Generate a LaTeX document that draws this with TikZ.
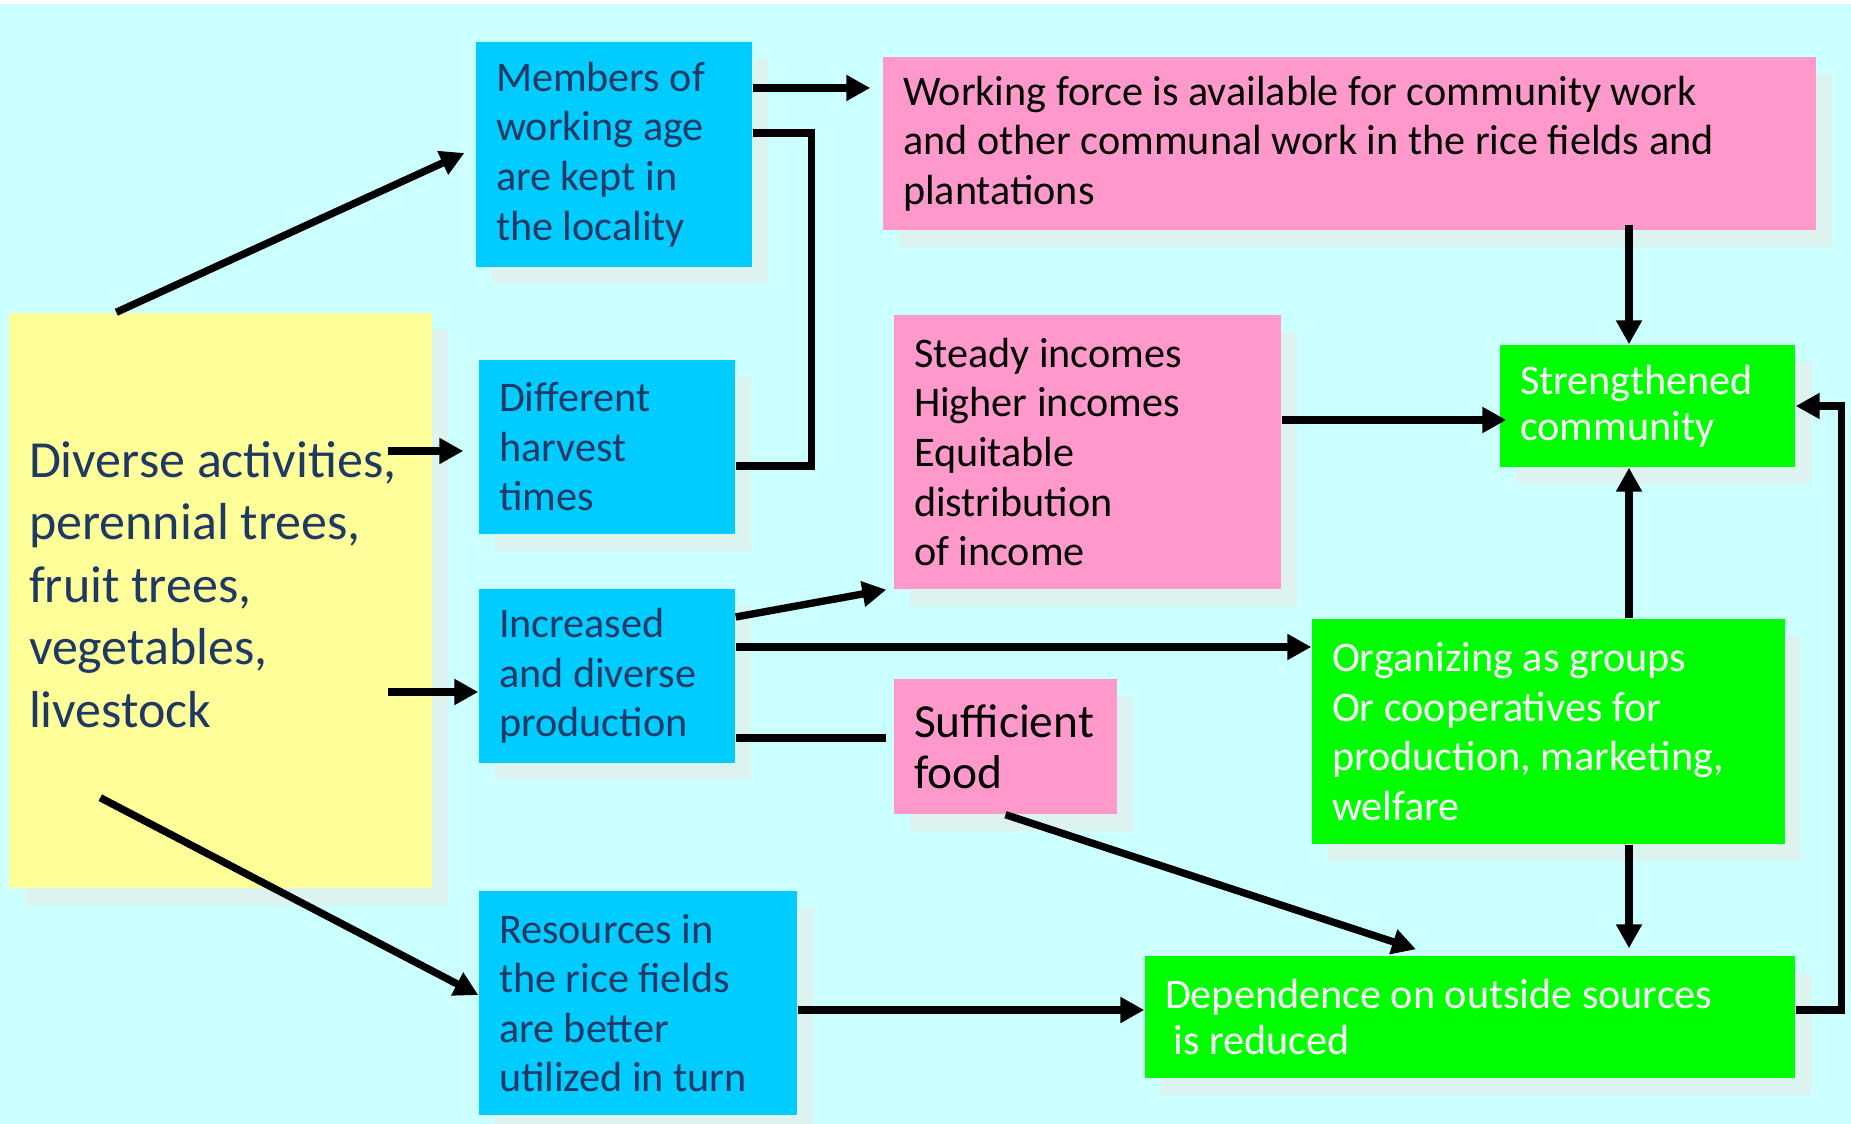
\documentclass[tikz,border=0pt]{standalone}
\usepackage{fontspec}
\setmainfont{Carlito}
\usetikzlibrary{arrows.meta,shadows}
\hyphenpenalty=10000
\definecolor{bgcyan}{HTML}{CCFFFF}
\definecolor{boxblue}{HTML}{00CCFF}
\definecolor{boxyellow}{HTML}{FFFF99}
\definecolor{boxpink}{HTML}{FF99CC}
\definecolor{boxgreen}{HTML}{00FF00}
\definecolor{shadowmint}{HTML}{DCF3EF}
\definecolor{textblue}{RGB}{31,56,100}
\tikzset{
  box/.style={rectangle, inner xsep=0.2cm, inner ysep=0pt, align=flush left,
    drop shadow={fill=shadowmint, opacity=1, shadow xshift=0.16cm, shadow yshift=-0.17cm}},
  bluebox/.style={box, fill=boxblue, text=textblue},
  yellowbox/.style={box, fill=boxyellow, text=textblue},
  pinkbox/.style={box, fill=boxpink, text=black},
  greenbox/.style={box, fill=boxgreen, text=white},
  f12/.style={font=\fontsize{12pt}{14.1pt}\selectfont},
  f12s/.style={font=\fontsize{12pt}{13.2pt}\selectfont},
  f13/.style={font=\fontsize{13.5pt}{14.5pt}\selectfont},
  f15/.style={font=\fontsize{14.8pt}{17.8pt}\selectfont},
  arr/.style={line width=2.1pt, -{Triangle[length=6.8pt,width=7pt]}},
  link/.style={line width=2.1pt}
}
\begin{document}
\begin{tikzpicture}
  \useasboundingbox (0,0) rectangle (18.51,-11.24);
  \fill[white] (0,0) rectangle (18.51,-11.24);
  \fill[bgcyan] (0,-0.04) rectangle (18.51,-11.24);
  \node[yellowbox, f15, minimum height=5.75cm, text width=3.83cm] (activities) at (2.205,-6.005) {Diverse activities,\\perennial trees,\\fruit trees,\\vegetables,\\livestock\\[-0.3cm]\mbox{}};
  \node[bluebox, f12, minimum height=2.25cm, text width=2.36cm] (members) at (6.14,-1.545) {Members of\\working age\\are kept in\\the locality};
  \node[bluebox, f12, minimum height=1.74cm, text width=2.16cm] (harvest) at (6.07,-4.47) {Different\\harvest\\times};
  \node[bluebox, f12, minimum height=1.74cm, text width=2.16cm] (production) at (6.07,-6.76) {Increased\\and diverse\\production};
  \node[bluebox, f12, minimum height=2.24cm, text width=2.78cm] (resources) at (6.38,-10.03) {Resources in\\the rice fields\\are better\\utilized in turn};
  \node[pinkbox, f12, minimum height=1.73cm, text width=8.93cm] (workforce) at (13.495,-1.435) {Working force is available for community work\\and other communal work in the rice fields and\\plantations};
  \node[pinkbox, f12, minimum height=2.74cm, text width=3.47cm] (incomes) at (10.875,-4.52) {Steady incomes\\Higher incomes\\Equitable\\distribution\\of income};
  \node[pinkbox, f13, minimum height=1.35cm, text width=1.83cm] (food) at (10.055,-7.465) {Sufficient\\food};
  \node[greenbox, f12s, minimum height=1.22cm, text width=2.55cm] (community) at (16.475,-4.06) {Strengthened\\community};
  \node[greenbox, f12, minimum height=2.25cm, text width=4.33cm] (groups) at (15.485,-7.315) {Organizing as groups\\Or cooperatives for\\production, marketing,\\welfare};
  \node[greenbox, f12s, minimum height=1.22cm, text width=6.1cm] (dependence) at (14.70,-10.17) {Dependence on outside sources\\\hspace*{2.5pt}is reduced};
  \draw[arr, shorten >=.12cm] ([xshift=1.08cm]activities.north west) -- ([yshift=.065cm]members.west);
  \draw[arr] ([xshift=-.9cm,yshift=-.04cm]harvest.west) -- ([xshift=-.15cm,yshift=-.04cm]harvest.west);
  \draw[arr] ([xshift=-.9cm,yshift=-.16cm]production.west) -- ([yshift=-.16cm]production.west);
  \draw[arr] ([xshift=.92cm,yshift=.91cm]activities.south west) -- ([yshift=.08cm]resources.west);
  \draw[arr, shorten >=.12cm] ([yshift=.665cm]members.east) -- ([yshift=.665cm]members.east -| workforce.west);
  \draw[link] ([yshift=.215cm]members.east) -- ++(.59,0) |- ([yshift=-.19cm]harvest.east);
  \draw[arr] ([yshift=.59cm]production.east) -- ([xshift=-.07cm]incomes.south west);
  \draw[arr] ([yshift=.29cm]production.east) -- ([yshift=.29cm]production.east -| groups.west);
  \draw[link, shorten >=.07cm] ([yshift=-.62cm]production.east) -- ([yshift=-.62cm]production.east -| food.west);
  \draw[arr] ([yshift=-.07cm]resources.east) -- ([yshift=-.07cm]resources.east -| dependence.west);
  \draw[arr] (food.south) -- ([xshift=-.54cm,yshift=.06cm]dependence.north);
  \draw[arr, shorten >=.07cm] ([xshift=.805cm]groups.south) -- ([xshift=.805cm]groups.south |- dependence.north);
  \draw[arr] ([xshift=.805cm]groups.north) -- ([xshift=.805cm]groups.north |- community.south);
  \draw[arr] ([xshift=2.795cm,yshift=.06cm]workforce.south) -- ([xshift=2.795cm]workforce.south |- community.north);
  \draw[arr] ([yshift=.32cm]incomes.east) -- ([xshift=.07cm,yshift=.32cm]incomes.east -| community.west);
  \draw[arr] ([yshift=.07cm]dependence.east) -- ++(.46,0) |- (community.east);
\end{tikzpicture}
\end{document}
